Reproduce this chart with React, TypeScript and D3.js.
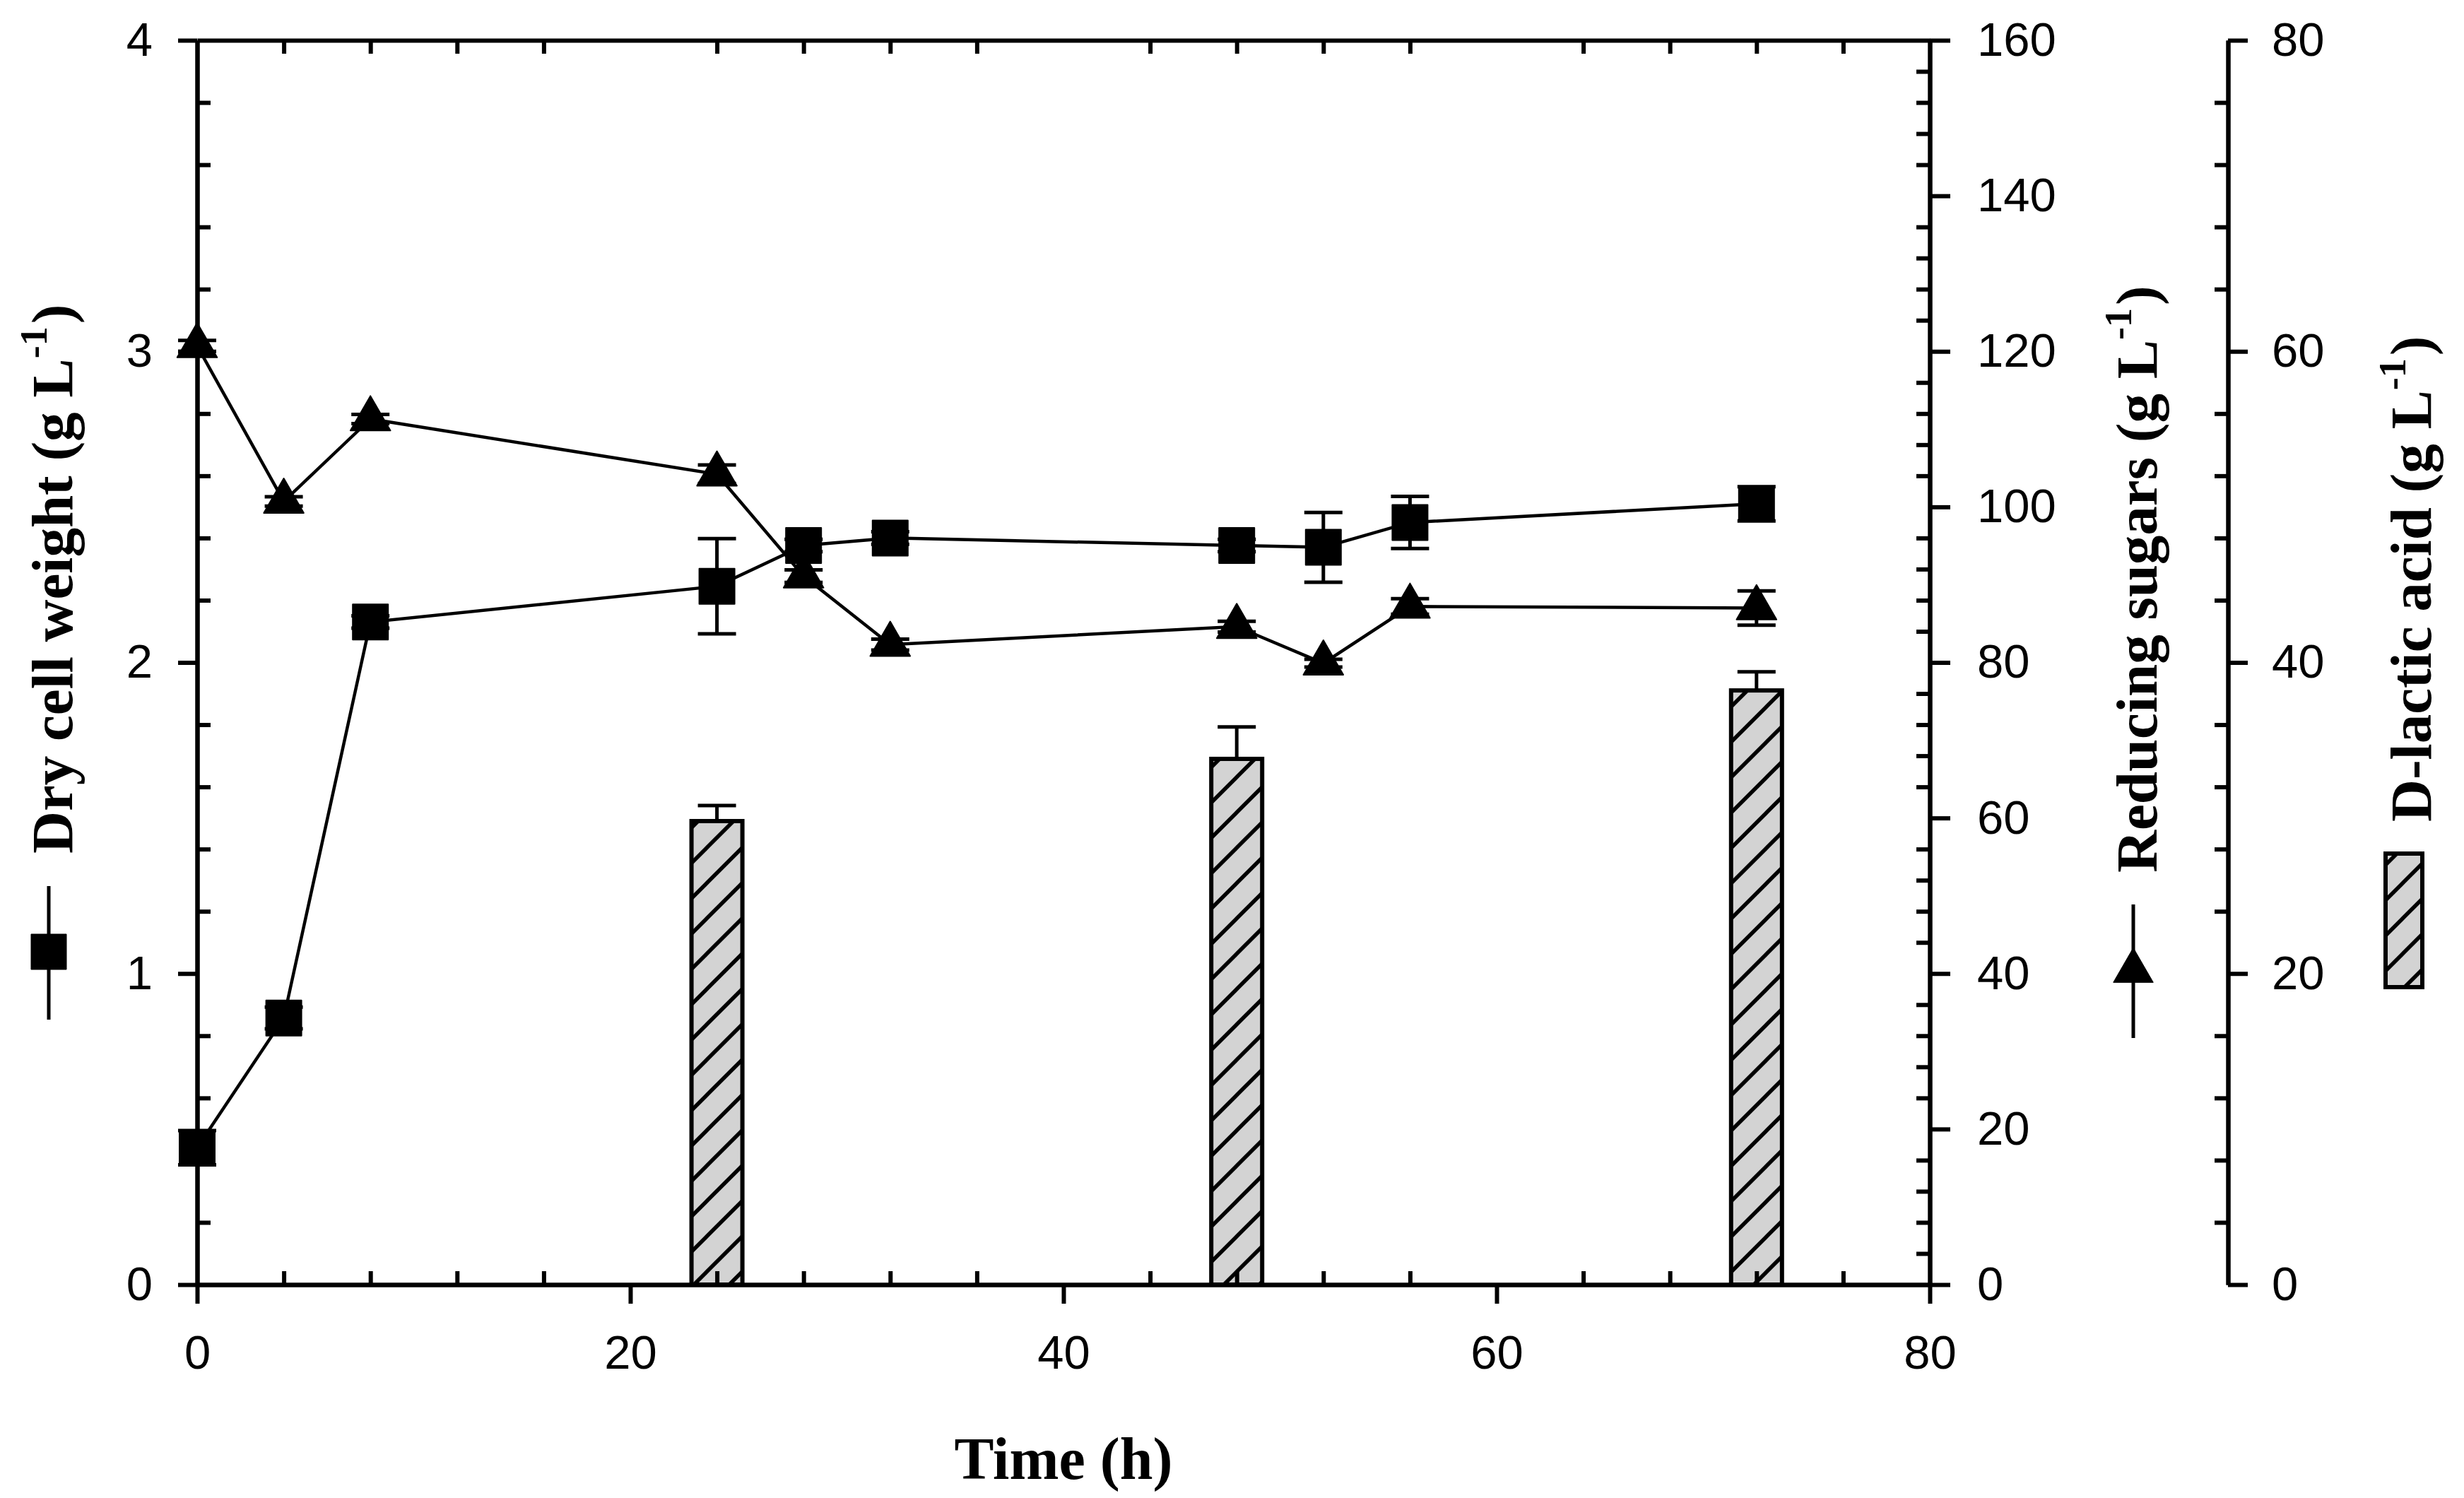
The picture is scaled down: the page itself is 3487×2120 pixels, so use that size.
import { useEffect, useRef } from 'react'
import * as d3 from 'd3'

// sampling times (h)
const TIME = [0, 4, 8, 24, 28, 32, 48, 52, 56, 72]
// dry cell weight, g/L
const DCW = [0.44, 0.857, 2.13, 2.245, 2.376, 2.4, 2.376, 2.37, 2.45, 2.51]
const DCW_ERR = [0.055, 0.035, 0.02, 0.153, 0.02, 0.02, 0.02, 0.112, 0.084, 0.055]
// reducing sugars, g/L
const SUGAR = [120.7, 100.7, 111.3, 104.2, 91.1, 82.3, 84.6, 79.9, 87.2, 87.0]
const SUGAR_ERR = [0.7, 0.6, 0.6, 1.2, 0.8, 0.7, 0.7, 0.5, 1.0, 2.2]
// D-lactic acid, g/L
const LACTIC_TIME = [24, 48, 72]
const LACTIC = [29.8, 33.8, 38.2]
const LACTIC_ERR = [1.0, 2.06, 1.2]

const X_TICKS = [0, 20, 40, 60, 80]
const DCW_TICKS = [0, 1, 2, 3, 4]
const SUGAR_TICKS = [0, 20, 40, 60, 80, 100, 120, 140, 160]
const LACTIC_TICKS = [0, 20, 40, 60, 80]

const W = 3487
const H = 2120
const TICK_FONT = '"Liberation Sans", Arial, sans-serif'
const TITLE_FONT = '"Liberation Serif", "Times New Roman", serif'

export default function App() {
  const svgRef = useRef<SVGSVGElement>(null)

  useEffect(() => {
    document.body.style.margin = '0'
    const svgEl = svgRef.current
    if (!svgEl) return
    const svg = d3.select(svgEl)
    svg.selectAll('*').remove()

    const left = 279, right = 2731, top = 57, bottom = 1818
    const thirdX = 3153

    const x = d3.scaleLinear().domain([0, 80]).range([left, right])
    const yL = d3.scaleLinear().domain([0, 4]).range([bottom, top])
    const yR = d3.scaleLinear().domain([0, 160]).range([bottom, top])
    const yD = d3.scaleLinear().domain([0, 80]).range([bottom, top])

    const minorOf = (lo: number, hi: number, step: number, majors: number[]) =>
      d3.range(lo, hi + step / 2, step)
        .map(v => +v.toFixed(4))
        .filter(v => !majors.some(m => Math.abs(m - v) < 1e-6))

    // hatch pattern for bars
    const defs = svg.append('defs')
    const pat = defs.append('pattern')
      .attr('id', 'hatch')
      .attr('patternUnits', 'userSpaceOnUse')
      .attr('width', 50).attr('height', 50)
    pat.append('rect').attr('width', 50).attr('height', 50).attr('fill', '#d3d3d3')
    pat.append('path')
      .attr('d', 'M-5,55 L55,-5 M-15,15 L15,-15 M35,65 L65,35')
      .attr('stroke', '#000').attr('stroke-width', 5.5)

    const styleAxis = (g: d3.Selection<SVGGElement, unknown, null, undefined>, withText: boolean) => {
      g.selectAll('.domain').attr('stroke', '#000').attr('stroke-width', 6)
      g.selectAll('.tick line').attr('stroke', '#000').attr('stroke-width', 6)
      if (withText) {
        g.selectAll('.tick text')
          .attr('fill', '#000')
          .style('font-family', TICK_FONT)
          .style('font-size', '67px')
      } else {
        g.selectAll('.tick text').remove()
      }
    }

    // ---- bars (behind everything)
    const barW = x(2.35) - x(0)
    const bars = svg.append('g')
    LACTIC_TIME.forEach((t, i) => {
      const y0 = yD(LACTIC[i])
      bars.append('rect')
        .attr('x', x(t) - barW / 2).attr('y', y0)
        .attr('width', barW).attr('height', yD(0) - y0)
        .attr('fill', 'url(#hatch)')
        .attr('stroke', '#000').attr('stroke-width', 6)
      const yErr = yD(LACTIC[i] + LACTIC_ERR[i])
      bars.append('line')
        .attr('x1', x(t)).attr('x2', x(t)).attr('y1', y0).attr('y2', yErr)
        .attr('stroke', '#000').attr('stroke-width', 5)
      bars.append('line')
        .attr('x1', x(t) - 27).attr('x2', x(t) + 27).attr('y1', yErr).attr('y2', yErr)
        .attr('stroke', '#000').attr('stroke-width', 5)
    })

    // ---- axes
    // bottom
    const xb = svg.append('g').attr('transform', `translate(0,${bottom})`)
      .call(d3.axisBottom(x).tickValues(X_TICKS).tickSize(27).tickSizeOuter(0).tickPadding(44).tickFormat(d3.format('d')))
    styleAxis(xb, true)
    const xbm = svg.append('g').attr('transform', `translate(0,${bottom})`)
      .call(d3.axisTop(x).tickValues(minorOf(0, 80, 4, X_TICKS)).tickSize(19).tickSizeOuter(0))
    styleAxis(xbm, false)
    // top frame
    const xt = svg.append('g').attr('transform', `translate(0,${top})`)
      .call(d3.axisBottom(x).tickValues(minorOf(0, 80, 4, X_TICKS)).tickSize(19).tickSizeOuter(0))
    styleAxis(xt, false)

    // left
    const yl = svg.append('g').attr('transform', `translate(${left},0)`)
      .call(d3.axisLeft(yL).tickValues(DCW_TICKS).tickSize(27).tickSizeOuter(0).tickPadding(36).tickFormat(d3.format('d')))
    styleAxis(yl, true)
    const ylm = svg.append('g').attr('transform', `translate(${left},0)`)
      .call(d3.axisRight(yL).tickValues(minorOf(0, 4, 0.2, DCW_TICKS)).tickSize(19).tickSizeOuter(0))
    styleAxis(ylm, false)

    // right (reducing sugars)
    const yr = svg.append('g').attr('transform', `translate(${right},0)`)
      .call(d3.axisRight(yR).tickValues(SUGAR_TICKS).tickSize(29).tickSizeOuter(0).tickPadding(38).tickFormat(d3.format('d')))
    styleAxis(yr, true)
    const yrm = svg.append('g').attr('transform', `translate(${right},0)`)
      .call(d3.axisLeft(yR).tickValues(minorOf(0, 160, 4, SUGAR_TICKS)).tickSize(19).tickSizeOuter(0))
    styleAxis(yrm, false)

    // third (D-lactic acid)
    const yd = svg.append('g').attr('transform', `translate(${thirdX},0)`)
      .call(d3.axisRight(yD).tickValues(LACTIC_TICKS).tickSize(28).tickSizeOuter(0).tickPadding(34).tickFormat(d3.format('d')))
    styleAxis(yd, true)
    const ydm = svg.append('g').attr('transform', `translate(${thirdX},0)`)
      .call(d3.axisLeft(yD).tickValues(minorOf(0, 80, 4, LACTIC_TICKS)).tickSize(19).tickSizeOuter(0))
    styleAxis(ydm, false)

    // ---- series
    const errBars = (g: d3.Selection<SVGGElement, unknown, null, undefined>, ys: number[], es: number[], y: d3.ScaleLinear<number, number>) => {
      TIME.forEach((t, i) => {
        const cx = x(t)
        const hi = y(ys[i] + es[i]), lo = y(ys[i] - es[i])
        g.append('line').attr('x1', cx).attr('x2', cx).attr('y1', hi).attr('y2', lo)
          .attr('stroke', '#000').attr('stroke-width', 5)
        ;[hi, lo].forEach(yy => {
          g.append('line').attr('x1', cx - 27).attr('x2', cx + 27).attr('y1', yy).attr('y2', yy)
            .attr('stroke', '#000').attr('stroke-width', 5)
        })
      })
    }

    const series = svg.append('g')
    const lineL = d3.line<number>().x((_, i) => x(TIME[i])).y(d => yL(d))
    const lineR = d3.line<number>().x((_, i) => x(TIME[i])).y(d => yR(d))
    series.append('path').attr('d', lineR(SUGAR)).attr('fill', 'none').attr('stroke', '#000').attr('stroke-width', 4.5)
    series.append('path').attr('d', lineL(DCW)).attr('fill', 'none').attr('stroke', '#000').attr('stroke-width', 4.5)
    errBars(series, SUGAR, SUGAR_ERR, yR)
    errBars(series, DCW, DCW_ERR, yL)

    const tri = d3.symbol().type(d3.symbolTriangle).size(1383)()
    const sq = d3.symbol().type(d3.symbolSquare).size(2500)()
    TIME.forEach((t, i) => {
      series.append('path').attr('d', tri)
        .attr('transform', `translate(${x(t)},${yR(SUGAR[i])})`)
        .attr('fill', '#000').attr('stroke', '#000').attr('stroke-width', 2).attr('stroke-linejoin', 'round')
    })
    TIME.forEach((t, i) => {
      series.append('path').attr('d', sq)
        .attr('transform', `translate(${x(t)},${yL(DCW[i])})`)
        .attr('fill', '#000').attr('stroke', '#000').attr('stroke-width', 2).attr('stroke-linejoin', 'round')
    })

    // ---- titles
    svg.append('text')
      .attr('x', (left + right) / 2).attr('y', 2093)
      .attr('text-anchor', 'middle')
      .style('font-family', TITLE_FONT).style('font-weight', 'bold').style('font-size', '84px')
      .text('Time (h)')

    const vTitle = (bx: number, by: number, label: string) => {
      const t = svg.append('text')
        .attr('transform', `translate(${bx},${by}) rotate(-90)`)
        .style('font-family', TITLE_FONT).style('font-weight', 'bold').style('font-size', '83px')
      t.append('tspan').text(label + ' (g L')
      t.append('tspan').attr('dy', -36).style('font-size', '54px').text('-1')
      t.append('tspan').attr('dy', 36).attr('dx', 4).text(')')
    }
    vTitle(102, 1208, 'Dry cell weight')
    vTitle(3052, 1235, 'Reducing sugars')
    vTitle(3440, 1163, 'D-lactic acid')

    // legend keys next to the axis titles
    const key = svg.append('g')
    key.append('line').attr('x1', 69).attr('x2', 69).attr('y1', 1254).attr('y2', 1443)
      .attr('stroke', '#000').attr('stroke-width', 5)
    key.append('path').attr('d', sq).attr('transform', 'translate(69,1347)')
      .attr('fill', '#000').attr('stroke', '#000').attr('stroke-width', 1)
    key.append('line').attr('x1', 3019).attr('x2', 3019).attr('y1', 1280).attr('y2', 1469)
      .attr('stroke', '#000').attr('stroke-width', 5)
    key.append('path').attr('d', tri).attr('transform', 'translate(3019,1374)')
      .attr('fill', '#000').attr('stroke', '#000').attr('stroke-width', 1)
    key.append('rect').attr('x', 3376).attr('y', 1208).attr('width', 52).attr('height', 189)
      .attr('fill', 'url(#hatch)').attr('stroke', '#000').attr('stroke-width', 6)
  }, [])

  return (
    <svg ref={svgRef} width={W} height={H} viewBox={`0 0 ${W} ${H}`}
      style={{ display: 'block', background: '#fff' }} />
  )
}
